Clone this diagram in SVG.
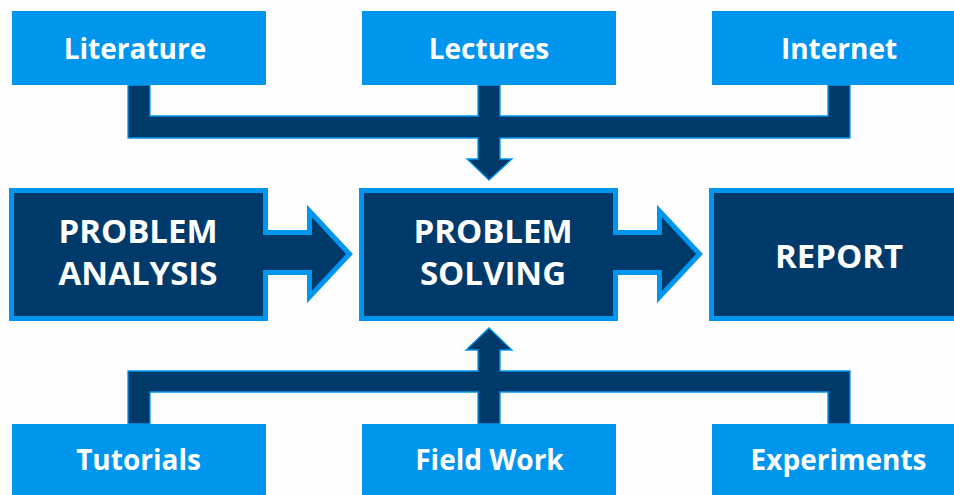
<svg xmlns="http://www.w3.org/2000/svg" width="954" height="495" viewBox="0 0 954 495">
<style>
.src{fill:#0096EE}
.main{fill:#003A6A;stroke:#0096EE;stroke-width:5;stroke-miterlimit:10}
.conn{fill:#003A6A;stroke:#0096EE;stroke-width:1.3}
.lbl{font-family:"Open Sans","Noto Sans",sans-serif;font-weight:bold;fill:#FFFFFF;text-anchor:middle}
.s{font-size:28px}
.m{font-size:33px}
</style>
<rect width="954" height="495" fill="#FDFDFD"/>
<g id="connectors">
<path class="conn" d="M128,85 V138 H478 V159 H467 L489,180 L512,159 H500 V138 H850 V85 H828 V116 H500 V85 H478 V116 H150 V85 Z"/>
<path class="conn" d="M128,424 V371 H478 V350 H466 L489,328 L512,350 H500 V371 H850 V424 H828 V392 H500 V424 H478 V392 H150 V424 Z"/>
</g>
<g id="literature"><rect class="src" x="12" y="11" width="254" height="74"/><text class="lbl s" x="135" y="59">Literature</text></g>
<g id="lectures"><rect class="src" x="362" y="11" width="254" height="74"/><text class="lbl s" x="489" y="59">Lectures</text></g>
<g id="internet"><rect class="src" x="712" y="11" width="260" height="74"/><text class="lbl s" x="839" y="59">Internet</text></g>
<g id="problem-analysis"><path class="main" d="M11.5,190.5 H265.5 V232.5 H309.5 V211 L349.5,254 L309.5,297 V272.5 H265.5 V318.5 H11.5 Z"/><text class="lbl m" x="138" y="243">PROBLEM</text><text class="lbl m" x="138" y="285">ANALYSIS</text></g>
<g id="problem-solving"><path class="main" d="M361.5,190.5 H615.5 V232.5 H659.5 V211 L699.5,254 L659.5,297 V272.5 H615.5 V318.5 H361.5 Z"/><text class="lbl m" x="493" y="243">PROBLEM</text><text class="lbl m" x="493" y="285">SOLVING</text></g>
<g id="report"><rect class="main" x="711.5" y="190.5" width="260" height="128"/><text class="lbl m" x="839" y="268">REPORT</text></g>
<g id="tutorials"><rect class="src" x="12" y="424" width="254" height="80"/><text class="lbl s" x="138.5" y="470">Tutorials</text></g>
<g id="field-work"><rect class="src" x="362" y="424" width="254" height="80"/><text class="lbl s" x="489.5" y="470">Field Work</text></g>
<g id="experiments"><rect class="src" x="712" y="424" width="260" height="80"/><text class="lbl s" x="838.5" y="470">Experiments</text></g>
</svg>
